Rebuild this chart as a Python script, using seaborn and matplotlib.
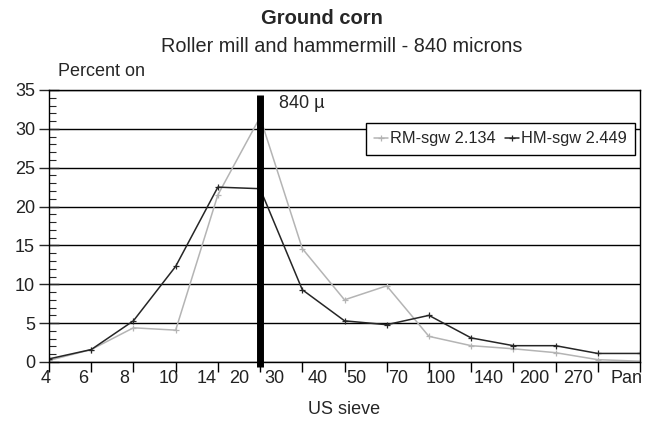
import matplotlib
matplotlib.use('Agg')
import matplotlib.pyplot as plt
import matplotlib.transforms as mtransforms
from matplotlib.ticker import MultipleLocator
import pandas as pd
import seaborn as sns

sns.set_style('ticks')
plt.rcParams['font.family'] = ['Liberation Sans Narrow', 'Liberation Sans', 'DejaVu Sans']

# sieve sizes on the x axis
sieves = ['4', '6', '8', '10', '14', '20', '30', '40', '50', '70',
          '100', '140', '200', '270', 'Pan']
# percent retained on each sieve
rm_values = [0.2, 1.6, 4.4, 4.1, 21.5, 31.5, 14.6, 8.0, 9.8, 3.3,
             2.1, 1.7, 1.2, 0.3, 0.1]
hm_values = [0.4, 1.6, 5.3, 12.3, 22.5, 22.3, 9.3, 5.3, 4.8, 6.0,
             3.1, 2.1, 2.1, 1.1, 1.1]
rm_label = 'RM-sgw 2.134'
hm_label = 'HM-sgw 2.449'
cut_sieve = '20'
cut_text = '840 \u00b5'

# the labels in the original are drawn a bit left of their ticks (pixels)
label_shift = [-3, -8, -9, -7, -11, -21, -28, -27, -30, -31, -30, -25, -21, -20, -13]

df = pd.DataFrame({
    'pos': list(range(len(sieves))) * 2,
    'percent': rm_values + hm_values,
    'series': [rm_label] * len(sieves) + [hm_label] * len(sieves),
})

fig = plt.figure(figsize=(6.52, 4.29), dpi=100)
ax = fig.add_axes([49 / 652, 1 - 362 / 429, 591 / 652, 272 / 429])

sns.lineplot(data=df, x='pos', y='percent', hue='series',
             palette={rm_label: '#b4b4b4', hm_label: '#262626'},
             marker='+', markersize=5, markeredgewidth=0.9, linewidth=1.1,
             sort=False, legend=False, ax=ax)
# '+' markers are only edges, so give them the line colour
for line in ax.lines:
    line.set_markeredgecolor(line.get_color())

# 840 micron marker
cut = sieves.index(cut_sieve)
ax.plot([cut, cut], [-0.7, 34.4], color='black', lw=5, solid_capstyle='butt',
        clip_on=False, zorder=5)
ax.annotate(cut_text, xy=(cut, 33.2), xytext=(19, 0), textcoords='offset pixels',
            va='center', ha='left', fontsize=13)

ax.set_xlim(0, len(sieves) - 1)
ax.set_ylim(0, 35)
ax.set_xticks(range(len(sieves)))
ax.set_xticklabels(sieves)
ax.yaxis.set_major_locator(MultipleLocator(5))
ax.yaxis.set_minor_locator(MultipleLocator(1))
ax.tick_params(axis='x', direction='out', length=7, width=1, pad=-1,
               labelsize=13, colors='black', labelcolor='#222222')
ax.tick_params(axis='y', which='major', direction='inout', length=14, width=1,
               pad=3, labelsize=13, labelcolor='#222222')
ax.tick_params(axis='y', which='minor', direction='in', length=5, width=0.8)
for lab, dx in zip(ax.get_xticklabels(), label_shift):
    lab.set_transform(lab.get_transform() +
                      mtransforms.ScaledTranslation(dx / 100, 0, fig.dpi_scale_trans))

ax.yaxis.grid(True, color='black', lw=1)
ax.set_axisbelow(True)
for side in ['left', 'right', 'top', 'bottom']:
    ax.spines[side].set_visible(True)
    ax.spines[side].set_color('black')
    ax.spines[side].set_linewidth(1)

ax.set_xlabel('')
ax.set_ylabel('')
fig.text(344 / 652, 1 - 410 / 429, 'US sieve', ha='center', va='center', fontsize=13)
fig.text(58 / 652, 1 - 72 / 429, 'Percent on', ha='left', va='center', fontsize=13)
fig.text(322 / 652, 1 - 18 / 429, 'Ground corn', ha='center', va='center',
         fontsize=14.5, fontweight='bold')
fig.text(342 / 652, 1 - 46 / 429, 'Roller mill and hammermill - 840 microns',
         ha='center', va='center', fontsize=14.3)

handles = [plt.Line2D([], [], color=line.get_color(), marker='+', markersize=5,
                      markeredgewidth=0.9, lw=1.1) for line in ax.lines[:2]]
leg = ax.legend(handles, [rm_label, hm_label],
                loc='upper right', bbox_to_anchor=(0.9915, 0.878), borderaxespad=0,
                ncol=2, frameon=True, fancybox=False, edgecolor='black',
                handlelength=0.8, handletextpad=0.15, columnspacing=0.6,
                borderpad=0.5, fontsize=11.8)
leg.get_frame().set_linewidth(1)
leg.get_frame().set_alpha(1)

fig.savefig('out.png', dpi=100)
